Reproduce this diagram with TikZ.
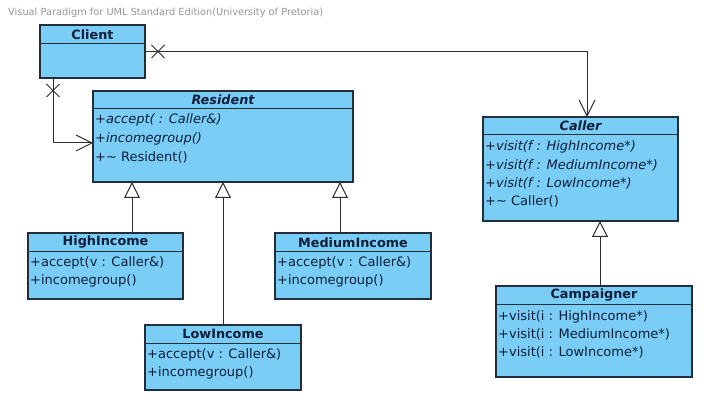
\documentclass[tikz,border=0pt]{standalone}
\usepackage{fontspec}
\setmainfont{DejaVu Sans}
\usetikzlibrary{arrows.meta,shapes.misc}
\definecolor{clsfill}{RGB}{122,205,245}
\definecolor{clsdraw}{RGB}{35,45,60}
\definecolor{clstext}{RGB}{15,30,60}
\definecolor{linecol}{RGB}{45,45,45}
\definecolor{titlegray}{RGB}{150,150,150}
\begin{document}
\begin{tikzpicture}[x=1pt,y=-1pt,
  cls/.style={draw=clsdraw, fill=clsfill, line width=1.1pt, inner sep=0pt, outer sep=0pt, anchor=north west},
  divline/.style={draw=clsdraw, line width=1pt},
  hdr/.style={inner sep=0pt, text=clstext, font=\fontsize{12.8}{14}\selectfont\bfseries},
  ahdr/.style={inner sep=0pt, text=clstext, font=\fontsize{12.8}{14}\selectfont\bfseries\itshape},
  mem/.style={anchor=west, inner sep=0pt, text=clstext, font=\fontsize{13}{14}\selectfont},
  amem/.style={anchor=west, inner sep=0pt, text=clstext, font=\fontsize{13}{14}\selectfont\itshape},
  conn/.style={draw=linecol, line width=1pt},
  assoc/.style={conn, -{Straight Barb[length=16pt,width=16pt,line width=1pt]}},
  inh/.style={conn, -{Triangle[open,length=16pt,width=16pt,line width=1pt,fill=white]}},
  xmark/.style={draw=linecol, line width=1pt, cross out, minimum width=12pt, minimum height=12pt, inner sep=0pt}
]
\useasboundingbox (0,0) rectangle (717,403);
\fill[white] (0,0) rectangle (717,403);

\node[anchor=west, inner sep=0pt, text=titlegray, font=\fontsize{9.8}{11}\selectfont] (title) at (8,13) {Visual Paradigm for UML Standard Edition(University of Pretoria)};

% Client
\node[cls, minimum width=105pt, minimum height=53pt] (client) at (40,25) {};
\draw[divline] ([yshift=-19pt]client.north west) -- ([yshift=-19pt]client.north east);
\node[hdr] (clientname) at ([yshift=-9.5pt]client.north) {Client};

% Resident
\node[cls, minimum width=260pt, minimum height=91pt] (resident) at (93,91) {};
\draw[divline] ([yshift=-18pt]resident.north west) -- ([yshift=-18pt]resident.north east);
\node[ahdr] (residentname) at ([yshift=-9pt]resident.north) {Resident};
\node[amem] (r1) at ([xshift=2pt,yshift=-29pt]resident.north west) {+accept( : Caller\&)};
\node[amem] (r2) at ([xshift=2pt,yshift=-47.5pt]resident.north west) {+incomegroup()};
\node[mem]  (r3) at ([xshift=2pt,yshift=-66pt]resident.north west) {+\textasciitilde{} Resident()};

% Caller
\node[cls, minimum width=195pt, minimum height=104pt] (caller) at (483,117) {};
\draw[divline] ([yshift=-18pt]caller.north west) -- ([yshift=-18pt]caller.north east);
\node[ahdr] (callername) at ([yshift=-9pt]caller.north) {Caller};
\node[amem] (c1) at ([xshift=2pt,yshift=-30pt]caller.north west) {+visit(f : HighIncome*)};
\node[amem] (c2) at ([xshift=2pt,yshift=-48pt]caller.north west) {+visit(f : MediumIncome*)};
\node[amem] (c3) at ([xshift=2pt,yshift=-66pt]caller.north west) {+visit(f : LowIncome*)};
\node[mem]  (c4) at ([xshift=2pt,yshift=-84pt]caller.north west) {+\textasciitilde{} Caller()};

% Campaigner
\node[cls, minimum width=196pt, minimum height=91pt] (camp) at (496,286) {};
\draw[divline] ([yshift=-18pt]camp.north west) -- ([yshift=-18pt]camp.north east);
\node[hdr] (campname) at ([yshift=-9.5pt]camp.north) {Campaigner};
\node[mem] (p1) at ([xshift=2pt,yshift=-31pt]camp.north west) {+visit(i : HighIncome*)};
\node[mem] (p2) at ([xshift=2pt,yshift=-48.5pt]camp.north west) {+visit(i : MediumIncome*)};
\node[mem] (p3) at ([xshift=2pt,yshift=-66pt]camp.north west) {+visit(i : LowIncome*)};

% HighIncome
\node[cls, minimum width=155pt, minimum height=66pt] (high) at (28,233) {};
\draw[divline] ([yshift=-19pt]high.north west) -- ([yshift=-19pt]high.north east);
\node[hdr] (highname) at ([yshift=-9.5pt]high.north) {HighIncome};
\node[mem] (h1) at ([xshift=2pt,yshift=-30pt]high.north west) {+accept(v : Caller\&)};
\node[mem] (h2) at ([xshift=2pt,yshift=-48pt]high.north west) {+incomegroup()};

% MediumIncome
\node[cls, minimum width=156pt, minimum height=66pt] (medium) at (275,233) {};
\draw[divline] ([yshift=-19pt]medium.north west) -- ([yshift=-19pt]medium.north east);
\node[hdr] (mediumname) at ([yshift=-9.5pt]medium.north) {MediumIncome};
\node[mem] (m1) at ([xshift=2pt,yshift=-30pt]medium.north west) {+accept(v : Caller\&)};
\node[mem] (m2) at ([xshift=2pt,yshift=-48pt]medium.north west) {+incomegroup()};

% LowIncome
\node[cls, minimum width=156pt, minimum height=65pt] (low) at (145,325) {};
\draw[divline] ([yshift=-18pt]low.north west) -- ([yshift=-18pt]low.north east);
\node[hdr] (lowname) at ([yshift=-9pt]low.north) {LowIncome};
\node[mem] (l1) at ([xshift=2pt,yshift=-30pt]low.north west) {+accept(v : Caller\&)};
\node[mem] (l2) at ([xshift=2pt,yshift=-48pt]low.north west) {+incomegroup()};

% Associations
\draw[assoc] (client.east) -| ([xshift=6.5pt]caller.north);
\node[xmark] (x1) at ([xshift=13pt]client.east) {};
\draw[assoc] ([xshift=13pt]client.south west) |- ([yshift=-6.5pt]resident.west);
\node[xmark] (x2) at ([xshift=13pt,yshift=-12.5pt]client.south west) {};

% Generalizations
\draw[inh] ([xshift=26.5pt]high.north) -- ([xshift=26.5pt]high.north |- resident.south);
\draw[inh] (low.north) -- (low.north |- resident.south);
\draw[inh] ([xshift=-13pt]medium.north) -- ([xshift=-13pt]medium.north |- resident.south);
\draw[inh] ([xshift=6pt]camp.north) -- ([xshift=6pt]camp.north |- caller.south);
\end{tikzpicture}
\end{document}
